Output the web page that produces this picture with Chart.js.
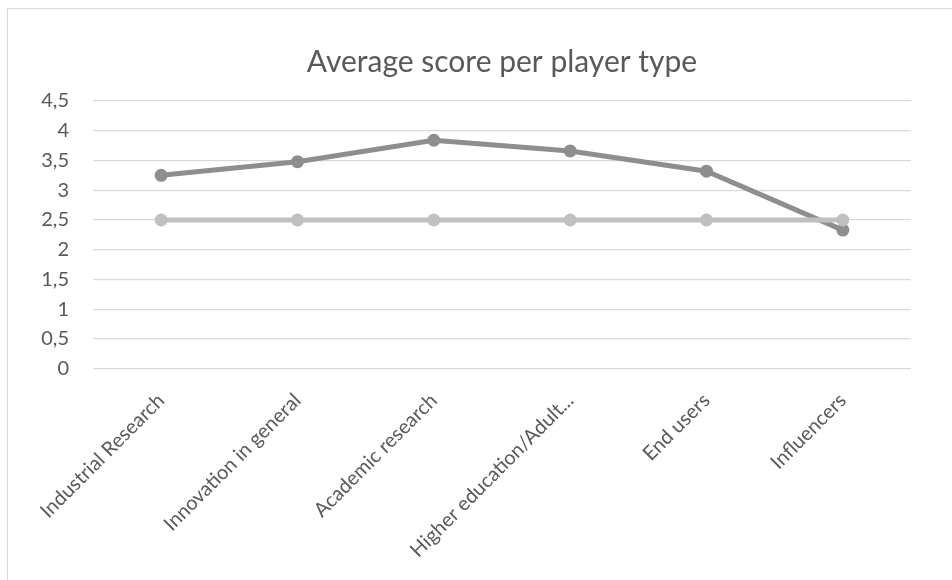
<!DOCTYPE html>
<html>
<head>
<meta charset="utf-8">
<script src="https://cdn.jsdelivr.net/npm/chart.js@4/dist/chart.umd.min.js"></script>
<style>
  html, body { margin: 0; padding: 0; background: #fff; }
  #wrap { position: relative; width: 952px; height: 580px; overflow: hidden; }
  #frame { position: absolute; left: 7px; top: 8px; width: 960px; height: 600px;
           border-left: 1.5px solid #d9d9d9; border-top: 1.5px solid #d9d9d9; box-sizing: border-box; }
  canvas { position: absolute; left: 0; top: 0; }
</style>
</head>
<body>
<div id="wrap">
  <div id="frame"></div>
  <canvas id="c" width="952" height="580"></canvas>
</div>
<script>
// Player types along the horizontal axis
const categories = [
  "Industrial Research",
  "Innovation in general",
  "Academic research",
  "Higher education/Adult...",
  "End users",
  "Influencers"
];
// Average score for each player type
const averageScores = [3.25, 3.48, 3.84, 3.66, 3.32, 2.33];
// Reference level
const referenceScores = [2.5, 2.5, 2.5, 2.5, 2.5, 2.5];
// Value axis ticks
const yTicks = [0, 0.5, 1, 1.5, 2, 2.5, 3, 3.5, 4, 4.5];

const FONT = "Lato, 'Open Sans', sans-serif";
const TEXT = "#595959";

// Centre the title over the plot area rather than the whole canvas
const titleOverPlot = {
  id: "titleOverPlot",
  afterLayout(chart) {
    const t = chart.titleBlock;
    if (!t) return;
    t.left = chart.chartArea.left;
    t.right = chart.chartArea.right;
    t.width = t.right - t.left;
  }
};

new Chart(document.getElementById("c"), {
  type: "line",
  data: {
    labels: categories,
    datasets: [
      {
        label: "Average score",
        data: averageScores,
        borderColor: "#8e8e8e",
        backgroundColor: "#8e8e8e",
        borderWidth: 5,
        pointRadius: 6.5,
        pointBorderWidth: 0,
        tension: 0,
        order: 2
      },
      {
        label: "Reference",
        data: referenceScores,
        borderColor: "#c0c0c0",
        backgroundColor: "#c0c0c0",
        borderWidth: 5,
        pointRadius: 6.5,
        pointBorderWidth: 0,
        tension: 0,
        order: 1
      }
    ]
  },
  plugins: [titleOverPlot],
  options: {
    responsive: false,
    animation: false,
    devicePixelRatio: 1,
    layout: { padding: { left: 0, right: 41, top: 0, bottom: 0 } },
    plugins: {
      legend: { display: false },
      tooltip: { enabled: false },
      title: {
        display: true,
        text: "Average score per player type",
        color: TEXT,
        font: { family: FONT, size: 30, weight: "normal", lineHeight: 1.2 },
        padding: { top: 44, bottom: 21 }
      }
    },
    scales: {
      x: {
        offset: true,
        grid: { display: false, drawTicks: false },
        border: { display: false },
        ticks: {
          color: TEXT,
          font: { family: FONT, size: 20 },
          minRotation: 45,
          maxRotation: 45,
          padding: 20,
          autoSkip: false
        },
        afterFit: (s) => { s.height = 580 - 368.7; }
      },
      y: {
        min: 0,
        max: 4.5,
        afterBuildTicks: (s) => { s.ticks = yTicks.map(v => ({ value: v })); },
        grid: { color: "#d9d9d9", lineWidth: 1.3, drawTicks: false },
        border: { display: false },
        ticks: {
          color: TEXT,
          font: { family: FONT, size: 20 },
          padding: 24,
          callback: (v) => String(v).replace(".", ",")
        },
        afterFit: (s) => { s.width = 93; }
      }
    }
  }
});
</script>
</body>
</html>
